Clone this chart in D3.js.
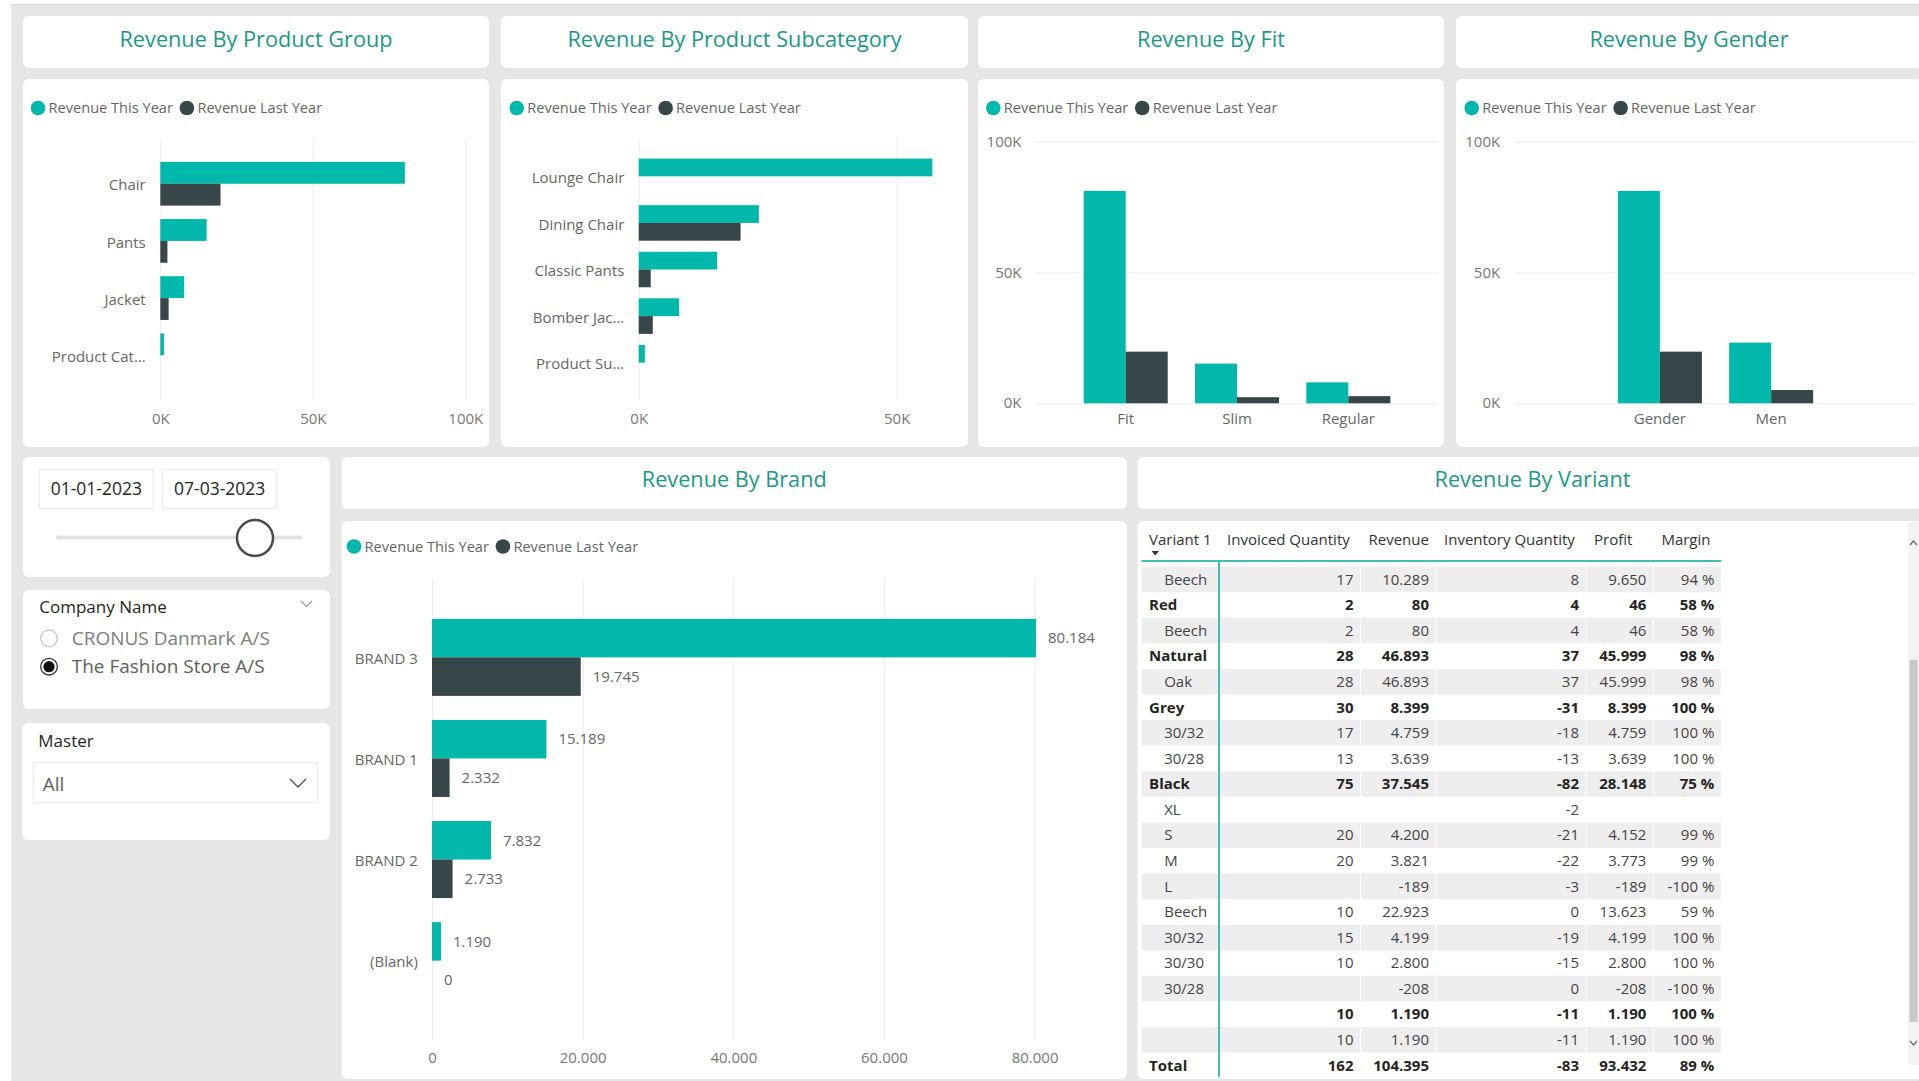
<!DOCTYPE html>
<html><head><meta charset="utf-8">
<script src="https://cdn.jsdelivr.net/npm/d3@7"></script>
<style>
html,body{margin:0;padding:0;background:#fff;overflow:hidden}
svg{display:block;font-family:"Segoe UI","Open Sans","Noto Sans",sans-serif}
</style></head><body>
<svg id="c" width="1919" height="1081"></svg>
<script>
// ---------------- DATA ----------------
const seriesNames = ["Revenue This Year", "Revenue Last Year"];

const productGroups = ["Chair", "Pants", "Jacket", "Product Cat..."];
const productGroupThisYear = [80184, 15189, 7832, 1190];
const productGroupLastYear = [19745, 2332, 2733, 0];

const subcategories = ["Lounge Chair", "Dining Chair", "Classic Pants", "Bomber Jac...", "Product Su..."];
const subcategoryThisYear = [56900, 23284, 15189, 7832, 1190];
const subcategoryLastYear = [0, 19745, 2332, 2733, 0];

const fits = ["Fit", "Slim", "Regular"];
const fitThisYear = [81200, 15189, 8006];
const fitLastYear = [19745, 2332, 2733];

const genders = ["Gender", "Men"];
const genderThisYear = [81200, 23195];
const genderLastYear = [19745, 5065];

const brands = ["BRAND 3", "BRAND 1", "BRAND 2", "(Blank)"];
const brandThisYear = [80184, 15189, 7832, 1190];
const brandLastYear = [19745, 2332, 2733, 0];

const kTicks = [0, 50000, 100000];
const subKTicks = [0, 50000];
const brandTicks = [0, 20000, 40000, 60000, 80000];

const dateFrom = "01-01-2023";
const dateTo = "07-03-2023";
const companies = ["CRONUS Danmark A/S", "The Fashion Store A/S"];
const selectedCompany = 1;
const masterValue = "All";

const tableColumns = ["Variant 1", "Invoiced Quantity", "Revenue", "Inventory Quantity", "Profit", "Margin"];
const variantLabels = ["Beech","Red","Beech","Natural","Oak","Grey","30/32","30/28","Black","XL","S","M","L","Beech","30/32","30/30","30/28","","","Total"];
const variantIsParent = [0,1,0,1,0,1,0,0,1,0,0,0,0,0,0,0,0,1,0,1];
const invoicedQuantity = [17,2,2,28,28,30,17,13,75,null,20,20,null,10,15,10,null,10,10,162];
const variantRevenue = [10289,80,80,46893,46893,8399,4759,3639,37545,null,4200,3821,-189,22923,4199,2800,-208,1190,1190,104395];
const inventoryQuantity = [8,4,4,37,37,-31,-18,-13,-82,-2,-21,-22,-3,0,-19,-15,0,-11,-11,-83];
const variantProfit = [9650,46,46,45999,45999,8399,4759,3639,28148,null,4152,3773,-189,13623,4199,2800,-208,1190,1190,93432];
const variantMargin = [0.94,0.58,0.58,0.98,0.98,1,1,1,0.75,null,0.99,0.99,-1,0.59,1,1,-1,1,1,0.89];

// ---------------- SETUP ----------------
const colors = ["#01B8AA", "#374649"];
const TEAL_TITLE = "#1a988a";
const LABEL = "#666666";
const svg = d3.select("#c");
const dk = d3.formatLocale({decimal: ",", thousands: ".", grouping: [3], currency: ["", ""], minus: "-"});
const fmtNum = dk.format(",.0f");
const fmtK = d => (d / 1000) + "K";

// page background
svg.append("rect").attr("width", 1919).attr("height", 1081).attr("fill", "#ffffff");
svg.append("rect").attr("x", 11).attr("y", 4).attr("width", 1908).attr("height", 1077).attr("fill", "#e6e6e6");
svg.append("line").attr("x1", 11).attr("x2", 1919).attr("y1", 4.5).attr("y2", 4.5).attr("stroke", "#d9d9d9");

function card(x, y, w, h) {
  svg.append("rect").attr("x", x).attr("y", y).attr("width", w).attr("height", h)
    .attr("rx", 6).attr("fill", "#ffffff");
}
function title(x, y, w, h, text, shift) {
  card(x, y, w, h);
  svg.append("text").attr("x", x + w / 2).attr("y", y + h / 2 - shift).attr("dy", "0.35em")
    .attr("text-anchor", "middle").attr("fill", TEAL_TITLE).style("font-size", "21.7px").text(text);
}
function legend(x, y) {
  let cx = x;
  seriesNames.forEach((name, i) => {
    svg.append("circle").attr("cx", cx).attr("cy", y).attr("r", 7.3).attr("fill", colors[i]);
    const t = svg.append("text").attr("x", cx + 10.5).attr("y", y).attr("dy", "0.35em")
      .attr("fill", LABEL).style("font-size", "14.6px").text(name);
    cx = cx + 10.5 + t.node().getComputedTextLength() + 14;
  });
}
function styleAxis(g, size, color) {
  g.attr("font-family", null).attr("font-size", null);
  g.select(".domain").remove();
  g.selectAll("text").attr("fill", color || LABEL).style("font-size", size + "px");
}

// horizontal clustered bar chart
function hbar(o) {
  const x = d3.scaleLinear().domain([0, o.max]).range([o.x0, o.x1]);
  const y = d3.scaleBand().domain(o.cats).range([o.gTop, o.gBottom]).paddingInner(o.pi).paddingOuter(o.po);
  const sub = d3.scaleBand().domain([0, 1]).range([0, y.bandwidth()]);
  const gx = svg.append("g").attr("transform", `translate(0,${o.gBottom})`)
    .call(d3.axisBottom(x).tickValues(o.ticks).tickFormat(o.fmt).tickSize(-(o.gBottom - o.gTop)).tickPadding(o.tickPad));
  styleAxis(gx, 15, "#777");
  gx.selectAll("line").attr("stroke", "#ebebeb");
  [o.ty, o.ly].forEach((vals, si) => {
    svg.append("g").selectAll("rect").data(o.cats).join("rect")
      .attr("x", x(0)).attr("y", d => y(d) + sub(si))
      .attr("width", (d, i) => Math.max(0, x(vals[i]) - x(0)))
      .attr("height", sub.bandwidth()).attr("fill", colors[si]);
    if (o.dataLabels) {
      svg.append("g").selectAll("text").data(o.cats).join("text")
        .attr("x", (d, i) => x(vals[i]) + 12).attr("y", d => y(d) + sub(si) + sub.bandwidth() / 2)
        .attr("dy", "0.35em").attr("fill", LABEL).style("font-size", "15px")
        .text((d, i) => fmtNum(vals[i]));
    }
  });
  const gy = svg.append("g").attr("transform", `translate(${o.x0},0)`)
    .call(d3.axisLeft(y).tickSize(0).tickPadding(o.labelPad));
  styleAxis(gy, 15);
  gy.selectAll("text").attr("dy", "0.45em");
}

// vertical clustered column chart
function vbar(o) {
  const y = d3.scaleLinear().domain([0, 100000]).range([o.yBase, o.yTop]);
  const step = 111.3, pi = 0.245;
  const po = ((o.x1 - o.x0) / step - o.cats.length + pi) / 2;
  const x = d3.scaleBand().domain(o.cats).range([o.x0, o.x1]).paddingInner(pi).paddingOuter(po);
  const sub = d3.scaleBand().domain([0, 1]).range([0, x.bandwidth()]);
  const gy = svg.append("g").attr("transform", `translate(${o.x0},0)`)
    .call(d3.axisLeft(y).tickValues(kTicks).tickFormat(fmtK).tickSize(-(o.x1 - o.x0)).tickPadding(14.5));
  styleAxis(gy, 15, "#777");
  gy.selectAll("text").attr("dy", "0.3em");
  gy.selectAll("line").attr("stroke", "#ebebeb");
  [o.ty, o.ly].forEach((vals, si) => {
    svg.append("g").selectAll("rect").data(o.cats).join("rect")
      .attr("x", d => x(d) + sub(si)).attr("y", (d, i) => y(vals[i]))
      .attr("width", sub.bandwidth()).attr("height", (d, i) => y(0) - y(vals[i]))
      .attr("fill", colors[si]);
  });
  const gx = svg.append("g").attr("transform", `translate(0,${o.yBase})`)
    .call(d3.axisBottom(x).tickSize(0).tickPadding(10));
  styleAxis(gx, 15);
}

// ---------------- TOP ROW ----------------
const topCards = [[23, 466], [501, 467], [978, 466], [1456, 466]];
const topTitles = ["Revenue By Product Group", "Revenue By Product Subcategory", "Revenue By Fit", "Revenue By Gender"];
topCards.forEach(([x, w], i) => {
  title(x, 16, w, 52, topTitles[i], 3);
  card(x, 79, w, 368);
});
legend(38, 108);
legend(516.7, 108);
legend(993.3, 108);
legend(1471.7, 108);

hbar({cats: productGroups, ty: productGroupThisYear, ly: productGroupLastYear, max: 100000,
  x0: 160.3, x1: 465.3, gTop: 139, gBottom: 400, pi: 0.235, po: 0.4, ticks: kTicks, fmt: fmtK,
  tickPad: 13.5, labelPad: 14.6});
hbar({cats: subcategories, ty: subcategoryThisYear, ly: subcategoryLastYear, max: 60000,
  x0: 638.7, x1: 948.3, gTop: 139, gBottom: 400, pi: 0.237, po: 0.42, ticks: subKTicks, fmt: fmtK,
  tickPad: 13.5, labelPad: 14.4});
vbar({cats: fits, ty: fitThisYear, ly: fitLastYear, x0: 1036, x1: 1438, yBase: 403.3, yTop: 141.7});
vbar({cats: genders, ty: genderThisYear, ly: genderLastYear, x0: 1514.7, x1: 1916.3, yBase: 403.3, yTop: 141.7});

// ---------------- SLICERS ----------------
card(23, 457, 307, 120);
[[39.3, dateFrom], [162.7, dateTo]].forEach(([x, t]) => {
  svg.append("rect").attr("x", x).attr("y", 469.3).attr("width", 114).attr("height", 39)
    .attr("fill", "#fff").attr("stroke", "#e6e6e6");
  svg.append("text").attr("x", x + 57).attr("y", 489).attr("dy", "0.35em").attr("text-anchor", "middle")
    .attr("fill", "#252423").style("font-size", "17.5px").text(t);
});
svg.append("line").attr("x1", 58).attr("x2", 300).attr("y1", 537.5).attr("y2", 537.5)
  .attr("stroke", "#e1e1e1").attr("stroke-width", 4).attr("stroke-linecap", "round");
svg.append("circle").attr("cx", 255).attr("cy", 538).attr("r", 18)
  .attr("fill", "#fff").attr("stroke", "#4a4a4a").attr("stroke-width", 2.5);

card(23, 590, 307, 119);
svg.append("text").attr("x", 39.3).attr("y", 607.5).attr("dy", "0.35em").attr("fill", "#252423")
  .style("font-size", "17px").text("Company Name");
svg.append("path").attr("d", "M301,601 L306.5,606.5 L312,601").attr("fill", "none").attr("stroke", "#9a9a9a").attr("stroke-width", 1.2);
companies.forEach((c, i) => {
  const cy = 638.3 + i * 28.4;
  svg.append("circle").attr("cx", 49).attr("cy", cy).attr("r", 8.3).attr("fill", "#fff")
    .attr("stroke", i === selectedCompany ? "#333" : "#c8c8c8").attr("stroke-width", 1.3);
  if (i === selectedCompany) svg.append("circle").attr("cx", 49).attr("cy", cy).attr("r", 5.6).attr("fill", "#111");
  svg.append("text").attr("x", 71.7).attr("y", cy).attr("dy", "0.35em")
    .attr("fill", i === selectedCompany ? "#605e5c" : "#7f7d7b").style("font-size", "19px").text(c);
});

card(22, 723, 308, 117);
svg.append("text").attr("x", 38.3).attr("y", 741.2).attr("dy", "0.35em").attr("fill", "#252423")
  .style("font-size", "17px").text("Master");
svg.append("rect").attr("x", 33.3).attr("y", 762.7).attr("width", 284).attr("height", 40)
  .attr("fill", "#fff").attr("stroke", "#e6e6e6");
svg.append("text").attr("x", 42.7).attr("y", 784).attr("dy", "0.35em").attr("fill", "#605e5c")
  .style("font-size", "19px").text(masterValue);
svg.append("path").attr("d", "M290,779 L298,787 L306,779").attr("fill", "none").attr("stroke", "#555").attr("stroke-width", 1.4);

// ---------------- BRAND CHART ----------------
title(341.5, 457, 785.5, 52, "Revenue By Brand", 4);
card(341.5, 521, 785.5, 558);
legend(354, 546.5);
hbar({cats: brands, ty: brandThisYear, ly: brandLastYear, max: 80000,
  x0: 432, x1: 1034.6, gTop: 578, gBottom: 1040, pi: 0.238, po: 0.404, ticks: brandTicks, fmt: fmtNum,
  tickPad: 12, labelPad: 14.2, dataLabels: true});

// ---------------- TABLE ----------------
title(1137.5, 457, 790, 52, "Revenue By Variant", 4);
card(1137.5, 521, 790, 558);
const colEdges = [1141.6, 1219, 1360.5, 1436, 1586, 1653.4, 1721.3];
const rowTop = 566.7, rowH = 25.57;
const tableValues = [invoicedQuantity, variantRevenue, inventoryQuantity, variantProfit, variantMargin];
const fmtCol = [fmtNum, fmtNum, fmtNum, fmtNum, v => dk.format(".0f")(v * 100) + " %"];
const rowY = d3.scaleLinear().domain([0, 1]).range([rowTop, rowTop + rowH]);

tableColumns.forEach((c, i) => {
  svg.append("text").attr("x", colEdges[i] + (i === 0 ? 7.5 : 8)).attr("y", 540).attr("dy", "0.35em")
    .attr("fill", "#333").style("font-size", "15px").text(c);
});
svg.append("path").attr("d", "M1151.5,551 L1159,551 L1155.2,555.5 Z").attr("fill", "#333");

variantLabels.forEach((lab, r) => {
  const y0 = rowY(r);
  if (r % 2 === 0) {
    for (let c = 0; c < 6; c++) {
      svg.append("rect").attr("x", colEdges[c] + (c ? 0.5 : 0)).attr("y", y0)
        .attr("width", colEdges[c + 1] - colEdges[c] - (c ? 1 : 0)).attr("height", rowH).attr("fill", "#eeeeee");
    }
  }
  const bold = variantIsParent[r] === 1;
  const fill = bold ? "#252423" : "#444";
  svg.append("text").attr("x", bold ? 1149.1 : 1164.2).attr("y", y0 + rowH / 2).attr("dy", "0.35em")
    .attr("fill", fill).attr("font-weight", bold ? 700 : 400).style("font-size", "15px").text(lab);
  tableValues.forEach((vals, c) => {
    if (vals[r] === null) return;
    svg.append("text").attr("x", colEdges[c + 2] - 7).attr("y", y0 + rowH / 2).attr("dy", "0.35em")
      .attr("text-anchor", "end").attr("fill", fill).attr("font-weight", bold ? 700 : 400)
      .style("font-size", "15px").text(fmtCol[c](vals[r]));
  });
});
svg.append("line").attr("x1", colEdges[0]).attr("x2", colEdges[6]).attr("y1", 561).attr("y2", 561)
  .attr("stroke", "#3fbfb4").attr("stroke-width", 2);
svg.append("line").attr("x1", colEdges[1]).attr("x2", colEdges[1]).attr("y1", 561).attr("y2", 1077)
  .attr("stroke", "#3fbfb4").attr("stroke-width", 2);

// scrollbar
svg.append("rect").attr("x", 1908).attr("y", 522).attr("width", 11).attr("height", 543).attr("fill", "#f3f3f3");
svg.append("rect").attr("x", 1909.5).attr("y", 660).attr("width", 8).attr("height", 362).attr("fill", "#c8c8c8");
svg.append("path").attr("d", "M1910,545 L1913.5,541 L1917,545").attr("fill", "none").attr("stroke", "#666").attr("stroke-width", 1.2);
svg.append("path").attr("d", "M1910,1041 L1913.5,1045 L1917,1041").attr("fill", "none").attr("stroke", "#666").attr("stroke-width", 1.2);
</script>
</body></html>
